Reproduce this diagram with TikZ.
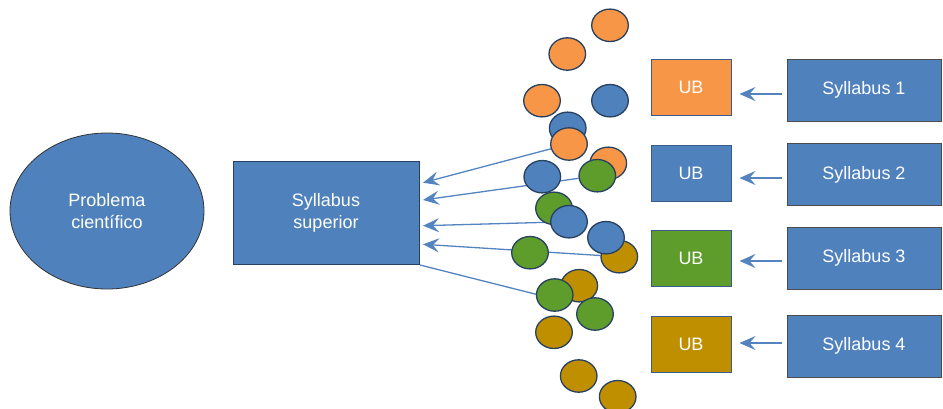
\documentclass[tikz,border=0pt]{standalone}
\usepackage{fontspec}
\setmainfont{Liberation Sans}
\usetikzlibrary{arrows.meta,shapes.geometric,backgrounds}

\definecolor{boxblue}{RGB}{79,129,189}
\definecolor{edgeblue}{RGB}{56,93,138}
\definecolor{dotorange}{RGB}{247,150,70}
\definecolor{dotgreen}{RGB}{94,156,44}
\definecolor{dotgold}{RGB}{191,143,0}
\definecolor{linkblue}{RGB}{84,132,192}

\tikzset{
  labeltext/.style={text=white,font=\fontsize{18}{22}\selectfont,align=center},
  ubbox/.style={labeltext,draw=edgeblue,line width=1pt,minimum width=80pt,minimum height=56pt,inner sep=0pt},
  sylbox/.style={labeltext,fill=boxblue,draw=black!70,line width=1pt,minimum width=154pt,minimum height=62pt,inner sep=0pt},
  chip/.style={ellipse,draw=edgeblue!70!black,line width=1.3pt,minimum width=36.6pt,minimum height=32.4pt,inner sep=0pt},
  link/.style={linkblue,line width=1.3pt},
  linkarrow/.style={link,-{Stealth[length=16pt,width=14pt,inset=6pt]}}
}

\begin{document}
\begin{tikzpicture}[x=1pt,y=-1pt]
  \useasboundingbox (0,0) rectangle (943,408);

  % left side
  \node[ellipse,labeltext,fill=boxblue,draw=black!80,line width=0.8pt,minimum width=194pt,minimum height=156pt,inner sep=0pt] (prob) at (107,211) {Problema\\científico};
  \node[labeltext,fill=boxblue,draw=edgeblue!70!black,line width=1pt,minimum width=186pt,minimum height=103pt,inner sep=0pt] (sup) at (326,212.5) {Syllabus\\superior};

  % units and syllabi
  \node[ubbox,fill=dotorange] (ub1) at (691,87) {UB};
  \node[ubbox,fill=boxblue] (ub2) at (691,173) {UB};
  \node[ubbox,fill=dotgreen] (ub3) at (691,258.5) {UB};
  \node[ubbox,fill=dotgold] (ub4) at (691,344.5) {UB};
  \node[sylbox] (s1) at (864,90) {Syllabus 1};
  \node[sylbox] (s2) at (864,174.5) {Syllabus 2};
  \node[sylbox] (s3) at (864,258) {Syllabus 3};
  \node[sylbox] (s4) at (864,346) {Syllabus 4};
  \foreach \i/\dy in {1/-4,2/-3.5,3/-3,4/3}
    \draw[linkarrow] ([xshift=-5pt,yshift=\dy pt]s\i.west) -- ([xshift=8pt,yshift=\dy pt]s\i.west -| ub\i.east);

  % scattered units
  \foreach \i/\x/\y/\c in {1/610/25.3/dotorange, 2/567.3/54/dotorange, 3/542/100.7/dotorange,
      4/610/100.7/boxblue, 5/567.7/128.3/boxblue, 6/569/144/dotorange, 7/608.3/163.3/dotorange,
      8/542.3/176.7/boxblue, 9/597.3/175.7/dotgreen, 10/554/208.3/dotgreen, 11/569/221.7/boxblue,
      13/619.3/256.7/dotgold, 12/606/237.7/boxblue, 14/530/252.7/dotgreen, 15/579.3/285.7/dotgold,
      16/554.7/295/dotgreen, 17/595/314/dotgreen, 18/554/332.3/dotgold, 19/578.7/376/dotgold,
      20/617.7/396.7/dotgold}
    \node[chip,fill=\c] (c\i) at (\x,\y) {};

  % links into the upper syllabus
  \coordinate (in1) at (423,182.7);
  \coordinate (in2) at (423,200);
  \coordinate (in3) at (423,225.7);
  \coordinate (in4) at (423,244.3);
  \coordinate (in5) at (420,265);
  \begin{scope}[on background layer]
    \draw[linkarrow] (c6) -- (in1);
    \draw[linkarrow] (c9) -- (in2);
    \draw[linkarrow] (c11) -- (in3);
    \draw[linkarrow] (c13) -- (in4);
    \draw[link] ([yshift=-4pt]c16.center) -- (in5);
  \end{scope}
\end{tikzpicture}
\end{document}
